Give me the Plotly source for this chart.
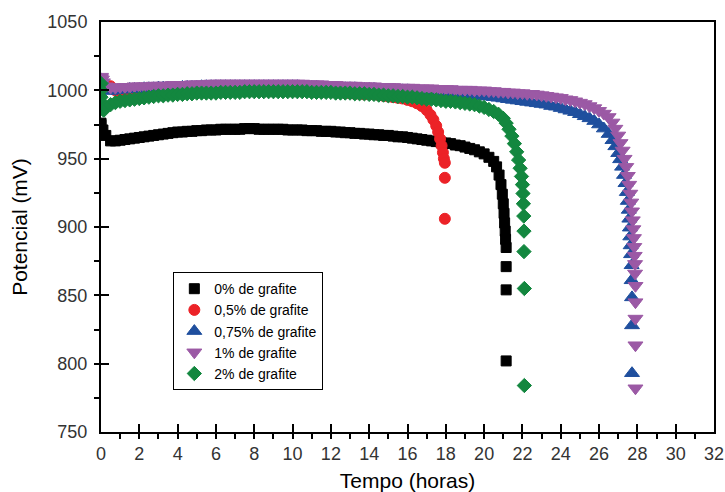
import plotly.graph_objects as go

# ---- data ----
hours = [0, 0.25, 0.5, 0.75, 1, 1.25, 1.5, 1.75, 2, 2.25, 2.5, 2.75, 3, 3.25, 3.5, 3.75,
         4, 4.25, 4.5, 4.75, 5, 5.25, 5.5, 5.75, 6, 6.25, 6.5, 6.75, 7, 7.25, 7.5, 7.75,
         8, 8.25, 8.5, 8.75, 9, 9.25, 9.5, 9.75, 10, 10.25, 10.5, 10.75, 11, 11.25, 11.5, 11.75,
         12, 12.25, 12.5, 12.75, 13, 13.25, 13.5, 13.75, 14, 14.25, 14.5, 14.75, 15, 15.25, 15.5, 15.75,
         16, 16.25, 16.5, 16.75, 17, 17.25, 17.5, 17.75, 18, 18.25, 18.5, 18.75, 19, 19.25, 19.5, 19.75,
         20, 20.25, 20.5, 20.75, 21, 21.25, 21.5, 21.75, 22, 22.25, 22.5, 22.75, 23, 23.25, 23.5, 23.75,
         24, 24.25, 24.5, 24.75, 25, 25.25, 25.5, 25.75, 26, 26.25, 26.5]

# 0% de grafite
t_0_head = [0, 0.1]
v_0_head = [976, 971]
v_0 = [975, 967, 963, 963, 963.5, 964, 964.5, 965,
       965.5, 966, 966.5, 967, 967.5, 968, 968.5, 969,
       969.5, 969.5, 970, 970, 970.5, 970.5, 971, 971,
       971, 971.5, 971.5, 971.5, 971.5, 971.5, 972, 972,
       972, 971.5, 971.5, 971.5, 971.5, 971.5, 971.5, 971,
       971, 971, 971, 970.5, 970.5, 970.5, 970, 970,
       970, 969.5, 969.5, 969, 969, 968.5, 968.5, 968,
       968, 967.5, 967.5, 967, 967, 966.5, 966, 966,
       965.5, 965, 964.5, 964, 963.5, 963, 962.5, 962,
       961.5, 961, 960, 959.5, 958.5, 957.5, 956.5, 955,
       953.5, 951, 948]
t_0_tail = [20.65, 20.78, 20.88, 20.95, 21.0, 21.04, 21.07, 21.1, 21.12, 21.15, 21.15, 21.15, 21.15]
v_0_tail = [944, 938, 931, 924, 917, 910, 903, 897, 891, 885, 871, 854, 802]

# 0,5% de grafite
t_05_head = []
v_05_head = []
v_05 = [1006, 1004, 1003, 1000, 998.5, 998.5, 998.5, 998.5,
        999, 999, 999, 999, 999, 999, 999, 999,
        999, 999, 999.5, 999.5, 999.5, 999.5, 999.5, 999.5,
        999.5, 999.5, 999.5, 999.5, 999.5, 999.5, 999.5, 999.5,
        999.5, 999.5, 999.5, 999.5, 999.5, 999.5, 999.5, 999.5,
        999.5, 999.5, 999.5, 999.5, 999, 999, 999, 999,
        999, 998.5, 998.5, 998, 998, 997.5, 997.5, 997,
        997.5, 997, 996.5, 996, 995.5, 995, 994.5, 994,
        993, 992]
t_05_tail = [16.5, 16.75, 17.0, 17.2, 17.35, 17.5, 17.6, 17.7, 17.78, 17.85, 17.9, 17.95, 17.95, 17.95]
v_05_tail = [990.5, 988.5, 985.5, 982, 978.5, 974, 969.5, 964.5, 959.5, 954.5, 950, 947, 936, 906]

# 0,75% de grafite
t_075_head = [0, 0.05, 0.1]
v_075_head = [1008, 1005, 1002]
v_075 = [1004, 1000, 999.5, 1000, 1000.5, 1000.5, 1001, 1001,
         1001, 1001.5, 1001.5, 1001.5, 1002, 1002, 1002, 1002,
         1002, 1002.5, 1002.5, 1002.5, 1002.5, 1003, 1003, 1003,
         1003, 1003, 1003, 1003, 1003, 1003, 1003, 1003,
         1003, 1003, 1003, 1003, 1003, 1003, 1003, 1003,
         1003, 1003, 1002.5, 1002.5, 1002.5, 1002.5, 1002, 1002,
         1002, 1002, 1001.5, 1001.5, 1001.5, 1001.5, 1001, 1001,
         1001, 1001, 1000.5, 1000.5, 1000.5, 1000.5, 1000, 1000,
         1000, 999.5, 999.5, 999, 999, 999, 998.5, 998.5,
         998, 998, 997.5, 997.5, 997, 996.5, 996.5, 996,
         995.5, 995.5, 995, 994.5, 994, 993.5, 993, 992.5,
         992, 991.5, 991, 990.5, 990, 989.5, 988.5, 988,
         987, 986, 985, 984, 982.5, 981, 979.5, 977.5,
         975]
t_075_tail = [26.25, 26.5, 26.7, 26.85, 27.0, 27.1, 27.2, 27.3, 27.38, 27.45, 27.5, 27.55,
              27.58, 27.61, 27.63, 27.65, 27.67, 27.7, 27.7, 27.72, 27.72, 27.72]
v_075_tail = [972, 968, 963.5, 959, 954, 949.5, 944, 938, 932, 925.5, 919, 912.5,
              906, 899.5, 893, 886.5, 880, 872, 861, 848.5, 828, 793]

# 1% de grafite
t_1_head = [0, 0.05, 0.1]
v_1_head = [1010, 1008, 1006]
v_1 = [1009, 1003, 1002, 1002, 1002.5, 1002.5, 1002.5, 1003,
       1003, 1003, 1003, 1003.5, 1003.5, 1003.5, 1003.5, 1004,
       1004, 1004, 1004, 1004.5, 1004.5, 1004.5, 1004.5, 1005,
       1005, 1005, 1005, 1005, 1005, 1005, 1005, 1005,
       1005, 1005, 1005, 1005, 1005, 1005, 1005, 1005,
       1005, 1005, 1005, 1004.5, 1004.5, 1004.5, 1004.5, 1004,
       1004, 1004, 1003.5, 1003.5, 1003.5, 1003.5, 1003, 1003,
       1003, 1003, 1002.5, 1002.5, 1002.5, 1002.5, 1002, 1002,
       1002, 1002, 1001.5, 1001.5, 1001.5, 1001.5, 1001, 1001,
       1001, 1001, 1000.5, 1000.5, 1000.5, 1000.5, 1000, 1000,
       1000, 999.5, 999.5, 999, 999, 998.5, 998.5, 998,
       998, 997.5, 997.5, 997, 996.5, 996, 995.5, 995,
       994.5, 993.5, 993, 992, 991, 990, 988.5, 987,
       985, 983, 980.5]
t_1_tail = [26.7, 26.85, 27.0, 27.12, 27.23, 27.33, 27.42, 27.5, 27.57, 27.63, 27.68, 27.72,
            27.76, 27.79, 27.82, 27.84, 27.86, 27.88, 27.88, 27.9, 27.9, 27.9, 27.9, 27.9]
v_1_tail = [976.5, 972, 967, 961.5, 956, 950, 944, 937.5, 931, 924.5, 918, 911.5,
            905, 898.5, 892, 885.5, 879, 873, 866, 857, 845, 833, 813.5, 782]

# 2% de grafite
t_2_head = [0, 0, 0.05, 0.1, 0.15]
v_2_head = [1005, 1000, 990, 986, 985.5]
v_2 = [995, 988, 989.5, 991, 992, 992.5, 993, 993.5,
       994, 994.5, 995, 995.5, 996, 996, 996.5, 996.5,
       997, 997, 997.5, 997.5, 998, 998, 998, 998,
       998, 998.5, 998.5, 998.5, 998.5, 998.5, 999, 999,
       999, 999, 999, 999, 999, 999, 999, 999,
       999, 999, 999, 999, 998.5, 998.5, 998.5, 998.5,
       998.5, 998, 998, 998, 998, 997.5, 997.5, 997.5,
       997, 997, 996.5, 996.5, 996, 996, 995.5, 995.5,
       995, 995, 994.5, 994, 993.5, 993.5, 993, 992.5,
       992, 992, 991.5, 991, 990.5, 990, 989.5, 988.5,
       987.5, 986, 984.5, 982.5]
t_2_tail = [21.0, 21.15, 21.3, 21.45, 21.58, 21.7, 21.8, 21.88, 21.95, 22.0, 22.03, 22.05,
            22.07, 22.08, 22.08, 22.1, 22.1]
v_2_tail = [979.5, 976, 971.5, 966.5, 961, 955, 949, 943, 937, 931, 924.5, 917,
            908, 897, 882, 855, 784]

names = ["0% de grafite", "0,5% de grafite", "0,75% de grafite", "1% de grafite", "2% de grafite"]
colors = ["#000000", "#ec2227", "#1f4f9e", "#9b59a5", "#13873f"]
symbols = ["square", "circle", "triangle-up", "triangle-down", "diamond"]
sizes = [10, 11, 13, 13, 11]

series = [
    (t_0_head, v_0_head, v_0, t_0_tail, v_0_tail),
    (t_05_head, v_05_head, v_05, t_05_tail, v_05_tail),
    (t_075_head, v_075_head, v_075, t_075_tail, v_075_tail),
    (t_1_head, v_1_head, v_1, t_1_tail, v_1_tail),
    (t_2_head, v_2_head, v_2, t_2_tail, v_2_tail),
]

fig = go.Figure()
for (th, vh, vb, tt, vt), name, c, s, sz in zip(series, names, colors, symbols, sizes):
    x = list(th) + hours[:len(vb)] + list(tt)
    y = list(vh) + list(vb) + list(vt)
    fig.add_trace(go.Scatter(
        x=x, y=y, mode="markers", name=name,
        marker=dict(symbol=s, color=c, size=sz, line=dict(width=1, color=c)),
    ))

axis_common = dict(
    showline=True, linecolor="black", linewidth=2, mirror=True,
    ticks="inside", ticklen=8, tickwidth=2, tickcolor="black",
    showgrid=False, zeroline=False, automargin=False,
    tickfont=dict(family="Liberation Sans, Arial", size=18, color="#333333"),
)

fig.update_layout(
    width=725, height=492,
    margin=dict(l=101, r=11, t=22, b=60),
    paper_bgcolor="white", plot_bgcolor="white",
    font=dict(family="Liberation Sans, Arial", color="black"),
    showlegend=True,
    legend=dict(
        x=0.118, y=0.39, xanchor="left", yanchor="top",
        bgcolor="white", bordercolor="black", borderwidth=1,
        font=dict(family="Liberation Sans, Arial", size=14, color="black"),
        tracegroupgap=0, itemwidth=30,
    ),
    xaxis=dict(
        range=[0, 32], dtick=2, tick0=0,
        minor=dict(dtick=1, ticks="outside", ticklen=5, tickwidth=2, tickcolor="black"),
        title=dict(text="Tempo (horas)", font=dict(size=21, color="black"), standoff=12),
        ticklabelstandoff=4,
        **axis_common,
    ),
    yaxis=dict(
        range=[750, 1050], dtick=50, tick0=750,
        minor=dict(dtick=25, ticks="outside", ticklen=5, tickwidth=2, tickcolor="black"),
        title=dict(text="Potencial (mV)", font=dict(size=21, color="black"), standoff=14),
        ticklabelstandoff=8,
        **axis_common,
    ),
)

fig.write_html(
    "out.html",
    config={"displayModeBar": False},
    post_script="document.body.style.margin='0px';document.body.style.overflow='hidden';",
)
